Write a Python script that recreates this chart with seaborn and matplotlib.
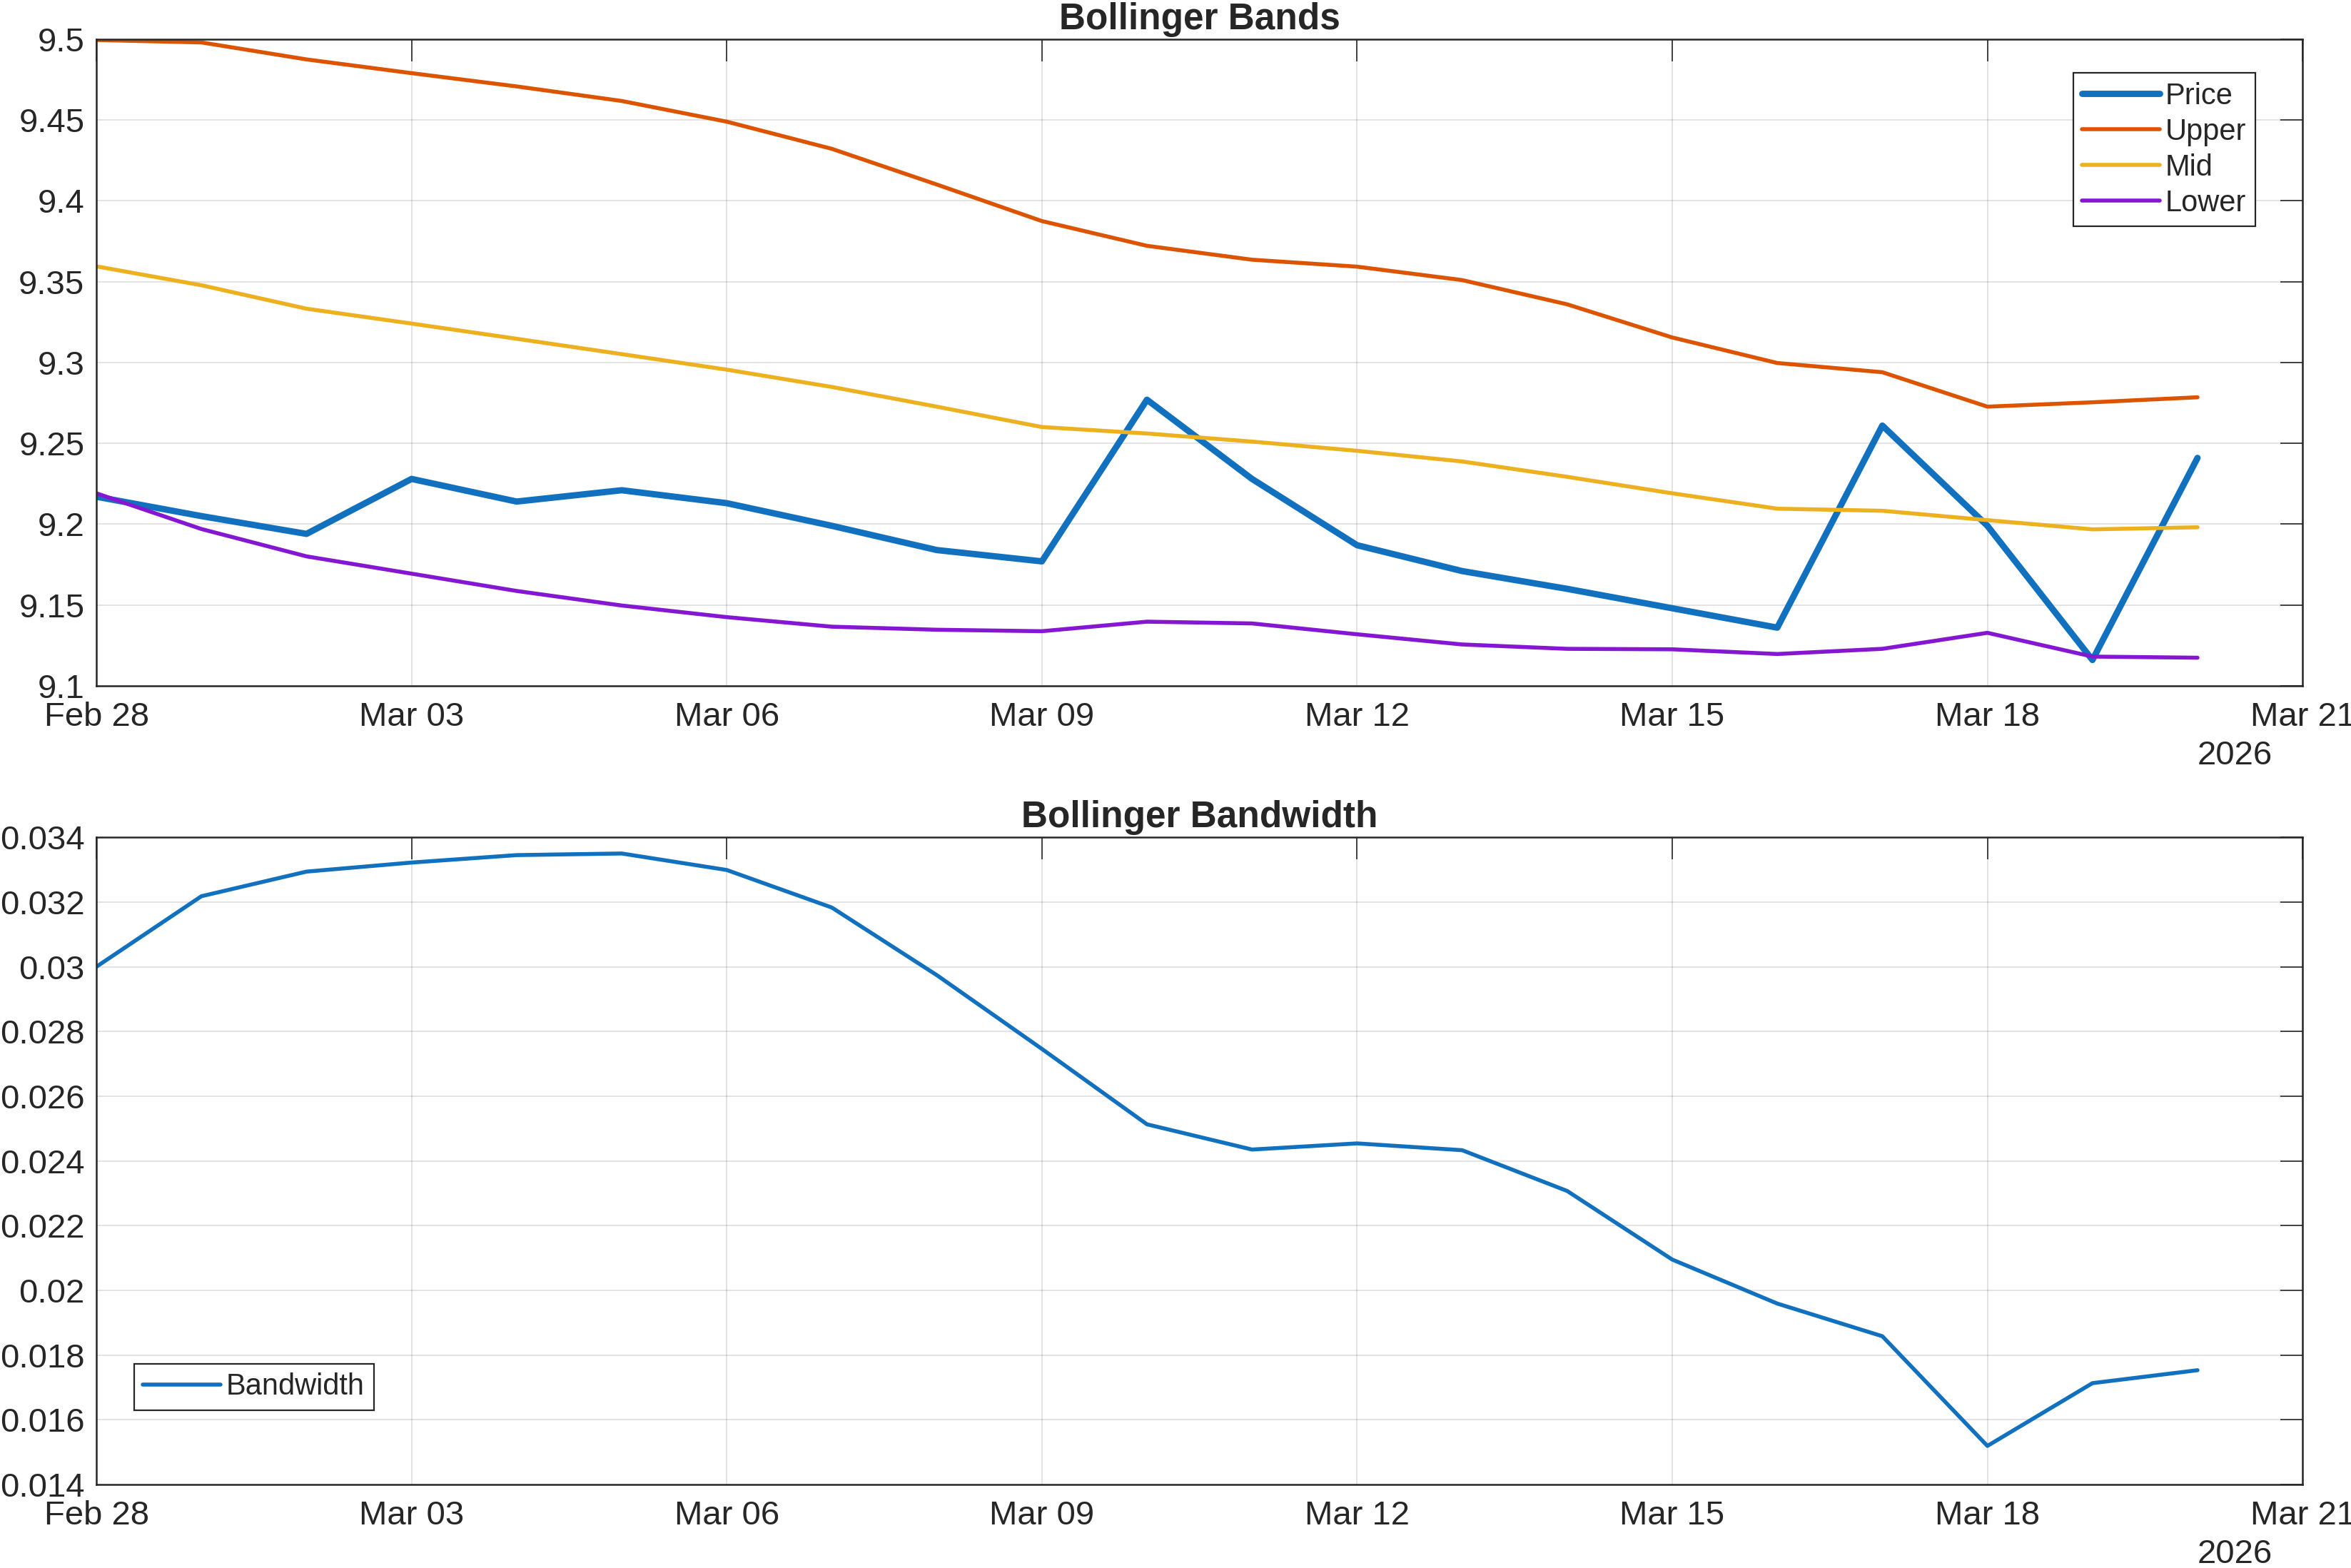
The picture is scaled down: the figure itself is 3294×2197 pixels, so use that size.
import pandas as pd
import seaborn as sns
import matplotlib
matplotlib.use("Agg")
import matplotlib.pyplot as plt
import matplotlib.dates as mdates
from matplotlib.ticker import FuncFormatter, MultipleLocator

# Daily dates, Feb 28 .. Mar 20 2026
dates = pd.date_range("2026-02-28", periods=21, freq="D")

price = [9.217, 9.205, 9.194, 9.228, 9.214, 9.221, 9.213, 9.199, 9.184, 9.177,
         9.277, 9.228, 9.187, 9.171, 9.160, 9.148, 9.136, 9.261, 9.199, 9.116, 9.241]
upper = [9.4995, 9.498, 9.4875, 9.479, 9.4708, 9.4618, 9.449, 9.4322, 9.4101, 9.3875,
         9.3722, 9.3636, 9.3593, 9.351, 9.336, 9.3155, 9.2997, 9.294, 9.2727, 9.2754, 9.2785]
mid = [9.3595, 9.3478, 9.3333, 9.3241, 9.3147, 9.3052, 9.2956, 9.2849, 9.2727, 9.2601,
       9.2561, 9.2511, 9.2454, 9.2388, 9.2293, 9.2191, 9.2096, 9.2083, 9.2025, 9.1968, 9.1981]
lower = [9.2191, 9.197, 9.1801, 9.1694, 9.1587, 9.1497, 9.1425, 9.1366, 9.1347, 9.1338,
         9.1397, 9.1386, 9.1319, 9.1256, 9.1229, 9.1226, 9.1197, 9.1229, 9.1328, 9.1181, 9.1174]
bandwidth = [0.0300, 0.03218, 0.03294, 0.03322, 0.03345, 0.03350, 0.03299, 0.03183,
             0.02974, 0.02746, 0.02513, 0.02435, 0.02454, 0.02433, 0.02307, 0.02095,
             0.01959, 0.01858, 0.01519, 0.01713, 0.01753]

colors = {"Price": "#1171BE", "Upper": "#DD5400", "Mid": "#EDB120",
          "Lower": "#8516D1", "Bandwidth": "#1171BE"}

sns.set_style("white")
plt.rcParams["font.family"] = ["Liberation Sans", "DejaVu Sans"]
dark = "#262626"

fig = plt.figure(figsize=(16.47, 10.985), dpi=200)
ax1 = fig.add_axes([0.041, 0.5626, 0.9384, 0.4124])
ax2 = fig.add_axes([0.041, 0.0533, 0.9384, 0.4127])

# top panel: bands
sns.lineplot(x=dates, y=price, ax=ax1, color=colors["Price"], linewidth=3.2, label="Price")
sns.lineplot(x=dates, y=upper, ax=ax1, color=colors["Upper"], linewidth=2.0, label="Upper")
sns.lineplot(x=dates, y=mid, ax=ax1, color=colors["Mid"], linewidth=2.0, label="Mid")
sns.lineplot(x=dates, y=lower, ax=ax1, color=colors["Lower"], linewidth=2.0, label="Lower")

# bottom panel: bandwidth
sns.lineplot(x=dates, y=bandwidth, ax=ax2, color=colors["Bandwidth"], linewidth=2.0,
             label="Bandwidth")

ax1.set_ylim(9.1, 9.5)
ax1.yaxis.set_major_locator(MultipleLocator(0.05))
ax2.set_ylim(0.014, 0.034)
ax2.yaxis.set_major_locator(MultipleLocator(0.002))

for ax, title in [(ax1, "Bollinger Bands"), (ax2, "Bollinger Bandwidth")]:
    ax.set_xlim(pd.Timestamp("2026-02-28"), pd.Timestamp("2026-03-21"))
    ax.xaxis.set_major_locator(mdates.DayLocator(bymonthday=[3, 6, 9, 12, 15, 18, 21, 28]))
    ax.xaxis.set_major_formatter(mdates.DateFormatter("%b %d"))
    ax.yaxis.set_major_formatter(FuncFormatter(lambda v, p: "%g" % round(v, 4)))
    ax.set_xlabel("")
    ax.set_ylabel("")
    ax.set_title(title, fontsize=18.5, fontweight="bold", color=dark, pad=5)
    ax.grid(True, color=dark, alpha=0.15, linewidth=0.6)
    ax.tick_params(direction="in", length=11, width=0.6, color=dark, labelcolor=dark,
                   labelsize=17, top=True, right=True, pad=6)
    ax.tick_params(axis="x", pad=8)
    for s in ax.spines.values():
        s.set_color(dark)
        s.set_linewidth(0.9)
        s.set_visible(True)
    ax.annotate("2026", xy=(0.9864, 0), xycoords="axes fraction", xytext=(0, -27.5),
                textcoords="offset points", ha="right", va="top", fontsize=17, color=dark)

leg_kw = dict(frameon=True, fancybox=False, edgecolor=dark, fontsize=15, borderaxespad=0,
              handlelength=2.6, handletextpad=0.2, labelspacing=0.24, borderpad=0.3,
              framealpha=1)
lg1 = ax1.legend(loc="upper right", bbox_to_anchor=(0.9786, 0.948), **leg_kw)
lg2 = ax2.legend(loc="lower left", bbox_to_anchor=(0.0171, 0.115), **leg_kw)
for lg in (lg1, lg2):
    lg.get_frame().set_linewidth(0.8)
    for t in lg.get_texts():
        t.set_color(dark)

fig.savefig("out.png", dpi=200)
